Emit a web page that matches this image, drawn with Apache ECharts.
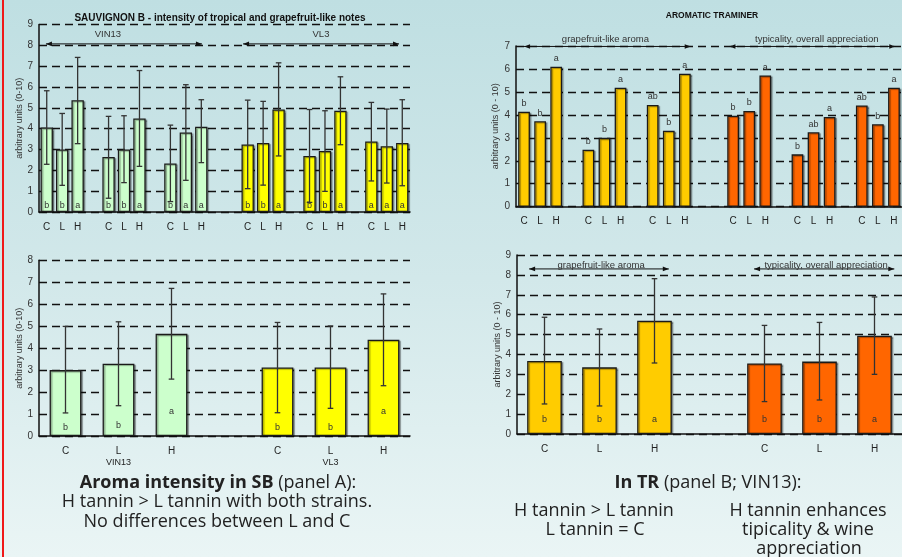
<!DOCTYPE html>
<html><head><meta charset="utf-8">
<script src="https://cdn.jsdelivr.net/npm/echarts@6/dist/echarts.min.js"></script>
<style>
html,body{margin:0;padding:0;}
#c{width:902px;height:557px;background:linear-gradient(to bottom,#bfdfe2 0%,#d2e8ea 50%,#eaf5f5 100%);}
</style></head><body><div id="c"></div>
<script>
// ---------- DATA ----------
// Panel A top: Sauvignon B, per-experiment
const sbCategories = ['C','L','H','','C','L','H','','C','L','H','','','C','L','H','','C','L','H','','C','L','H'];
const sbVin13Mean = [4.06,3.00,5.37,2.64,3.00,4.49,2.33,3.82,4.09];
const sbVin13Low  = [2.29,1.28,3.28,0.66,1.41,2.19,0.50,1.52,2.37];
const sbVin13High = [5.82,4.73,7.42,4.59,4.62,6.79,4.17,6.11,5.39];
const sbVin13Letters = ['b','b','a','b','b','a','b','a','a'];
const sbVl3Mean = [3.24,3.31,4.92,2.69,2.93,4.86,3.39,3.16,3.31];
const sbVl3Low  = [1.12,1.29,2.69,0.46,0.99,3.23,1.49,1.39,1.26];
const sbVl3High = [5.37,5.31,7.16,4.92,4.86,6.49,5.26,4.94,5.39];
const sbVl3Letters = ['b','b','a','b','b','a','a','a','a'];
const sbArrowLabels = ['VIN13','VL3'];
const sbArrowFrom = [-0.05, 12.7];
const sbArrowTo = [10.04, 22.79];
const sbArrowY = 8.07;
const sbLabelX = [3.96, 17.74];
const sbLabelY = 8.53;

// Panel A bottom: Sauvignon B, means
const sbAvgCategories = ['C','L','H','','C','L','H'];
const sbAvgGroups = ['VIN13','VL3'];
const sbAvgVin13Mean = [3.00,3.29,4.65];
const sbAvgVin13Low  = [1.05,1.38,2.59];
const sbAvgVin13High = [4.99,5.20,6.72];
const sbAvgVin13Letters = ['b','b','a'];
const sbAvgVin13LetterY = [0.39,0.50,1.10];
const sbAvgVl3Mean = [3.12,3.12,4.38];
const sbAvgVl3Low  = [1.06,1.26,2.29];
const sbAvgVl3High = [5.17,5.01,6.47];
const sbAvgVl3Letters = ['b','b','a'];
const sbAvgVl3LetterY = [0.39,0.39,1.10];

// Panel B top: Aromatic Traminer
const trCategories = ['C','L','H','','C','L','H','','C','L','H','','','C','L','H','','C','L','H','','C','L','H'];
const trAromaMean = [4.14,3.72,6.10,2.48,3.00,5.18,4.43,3.31,5.79];
const trAromaLetters = ['b','b','a','b','b','a','ab','b','a'];
const trTypicMean = [3.96,4.17,5.72,2.28,3.24,3.91,4.41,3.59,5.18];
const trTypicLetters = ['b','b','a','b','ab','a','ab','b','a'];
const trArrowLabels = ['grapefruit-like aroma','typicality, overall appreciation'];
const trArrowFrom = [0.0, 12.77];
const trArrowTo = [10.36, 23.08];
const trArrowY = 6.98;
const trLabelX = [5.06, 18.2];
const trLabelY = 7.31;

// Panel B bottom: Traminer means
const trAvgCategories = ['C','L','H','','C','L','H'];
const trAvgAromaMean = [3.67,3.35,5.70];
const trAvgAromaLow  = [1.51,1.41,3.57];
const trAvgAromaHigh = [5.87,5.28,7.81];
const trAvgAromaLetters = ['b','b','a'];
const trAvgTypicMean = [3.55,3.64,4.94];
const trAvgTypicLow  = [1.63,1.71,3.00];
const trAvgTypicHigh = [5.46,5.61,6.89];
const trAvgTypicLetters = ['b','b','a'];
const trAvgLetterY = 0.75;
const trAvgArrowLabels = ['grapefruit-like aroma','typicality, overall appreciation'];
const trAvgArrowFrom = [-0.28, 3.81];
const trAvgArrowTo = [2.26, 6.36];
const trAvgArrowY = 8.3;
const trAvgLabelX = [1.03, 5.12];
const trAvgLabelY = 8.5;

// ---------- BUILD ----------
const FONT = '"Liberation Sans", Arial, sans-serif';
function slotsOf(cats){ const s=[]; cats.forEach((c,i)=>{ if(c!=='') s.push(i); }); return s; }
function spread(n, slots, vals){ const a=new Array(n).fill('-'); slots.forEach((s,i)=>a[s]=vals[i]); return a; }
function mapLetters(slots, letters){ const m={}; slots.forEach((s,i)=>m[s]=letters[i]); return m; }

const sbSlots = slotsOf(sbCategories), sbVinS = sbSlots.slice(0,9), sbVlS = sbSlots.slice(9);
const sbAvgSlots = slotsOf(sbAvgCategories), sbAvgVinS = sbAvgSlots.slice(0,3), sbAvgVlS = sbAvgSlots.slice(3);
const trSlots = slotsOf(trCategories), trAS = trSlots.slice(0,9), trTS = trSlots.slice(9);
const trAvgSlots = slotsOf(trAvgCategories), trAvgAS = trAvgSlots.slice(0,3), trAvgTS = trAvgSlots.slice(3);

const grids = [
  {left:39, right:492, top:24.5, bottom:345},
  {left:39, right:492, top:260.3, bottom:121},
  {left:516, right:-3, top:46, bottom:350.3},
  {left:517, right:-3.5, top:255, bottom:123}
];
const yMax = [9,8,7,9];
const yNames = ['arbitrary units (0-10)','arbitrary units (0-10)','arbitrary units (0 - 10)','arbitrary units (0 - 10)'];
const yNameGap = [14,14,16,15];
const catData = [sbCategories, sbAvgCategories, trCategories, trAvgCategories];

const xAxes = [], yAxes = [];
catData.forEach((cats,g)=>{
  xAxes.push({type:'category', gridIndex:g, data:cats,
    axisLine:{onZero:false, lineStyle:{color:'#111', width:1.5}}, axisTick:{show:false},
    axisLabel:{interval:0, fontSize:10, color:'#222', margin:9, fontFamily:FONT, lineHeight:12,
      formatter:(v,i)=>{ if(g===1 && i===1) return v+'\n{s|'+sbAvgGroups[0]+'}'; if(g===1 && i===5) return v+'\n{s|'+sbAvgGroups[1]+'}'; return v; },
      rich:{s:{fontSize:9, color:'#222', fontFamily:FONT}}}
  });
  xAxes.push({type:'value', gridIndex:g, min:-0.5, max:cats.length-0.5, show:false,
    axisLine:{show:false, onZero:false}, splitLine:{show:false}, axisLabel:{show:false}, axisTick:{show:false}});
  yAxes.push({type:'value', gridIndex:g, min:0, max:yMax[g], interval:1,
    axisLine:{show:true, onZero:false, lineStyle:{color:'#111', width:1.5}}, axisTick:{show:false},
    axisLabel:{fontSize:10, color:'#333', margin:6, fontFamily:FONT},
    splitLine:{lineStyle:{type:[8,5], color:'#111', width:1.3}},
    name:yNames[g], nameLocation:'middle', nameGap:yNameGap[g],
    nameTextStyle:{fontSize:9, color:'#333', fontFamily:FONT}
  });
});

function barSeries(g, n, slots, vals, color, width, letters, labelPos){
  const lm = mapLetters(slots, letters || []);
  return {type:'bar', xAxisIndex:2*g, yAxisIndex:g, data:spread(n, slots, vals),
    barWidth:width, barGap:'-100%', z:2,
    itemStyle:{color:color, borderColor:'#1a1a1a', borderWidth:1.3,
      shadowColor:'rgba(0,0,0,0.35)', shadowOffsetX:1.5, shadowOffsetY:1, shadowBlur:1},
    label:{show:!!letters, position:labelPos||'insideBottom', distance:labelPos==='top'?3.5:2,
      fontSize:9, color:'#333', fontFamily:FONT, formatter:p=>lm[p.dataIndex]||''}
  };
}
function errorSeries(g, slots, lo, hi){
  return {type:'custom', xAxisIndex:2*g+1, yAxisIndex:g, z:5, silent:true, clip:false,
    data: slots.map((s,i)=>[s, lo[i], hi[i]]), encode:{x:0, y:[1,2]},
    renderItem(params, api){
      const p1 = api.coord([api.value(0), api.value(1)]), p2 = api.coord([api.value(0), api.value(2)]);
      const cw = 2.8, st = {stroke:'#333', lineWidth:1.3};
      return {type:'group', children:[
        {type:'line', shape:{x1:p1[0], y1:p1[1], x2:p2[0], y2:p2[1]}, style:st},
        {type:'line', shape:{x1:p1[0]-cw, y1:p1[1], x2:p1[0]+cw, y2:p1[1]}, style:st},
        {type:'line', shape:{x1:p2[0]-cw, y1:p2[1], x2:p2[0]+cw, y2:p2[1]}, style:st}
      ]};
    }
  };
}
function letterSeries(g, slots, ys, letters){
  return {type:'custom', xAxisIndex:2*g+1, yAxisIndex:g, z:6, silent:true, clip:false,
    data: slots.map((s,i)=>[s, Array.isArray(ys)?ys[i]:ys]), encode:{x:0, y:1},
    renderItem(params, api){
      const p = api.coord([api.value(0), api.value(1)]);
      return {type:'text', x:p[0], y:p[1], style:{text:letters[params.dataIndex], fill:'#333',
        font:'9px '+FONT, align:'center', verticalAlign:'middle', textAlign:'center', textVerticalAlign:'middle'}};
    }
  };
}
function arrowSeries(g, from, to, y, labels, lx, ly){
  return {type:'custom', xAxisIndex:2*g+1, yAxisIndex:g, z:7, silent:true, clip:false,
    data: from.map((f,i)=>[f, to[i], y, lx[i], ly]), encode:{x:[0,1,3], y:[2,4]},
    renderItem(params, api){
      const i = params.dataIndex;
      const a = api.coord([api.value(0), api.value(2)]), b = api.coord([api.value(1), api.value(2)]);
      const t = api.coord([api.value(3), api.value(4)]);
      const h = 6, w = 2.3;
      return {type:'group', children:[
        {type:'line', shape:{x1:a[0], y1:a[1], x2:b[0], y2:b[1]}, style:{stroke:'#111', lineWidth:1}},
        {type:'polygon', shape:{points:[[a[0],a[1]],[a[0]+h,a[1]-w],[a[0]+h,a[1]+w]]}, style:{fill:'#111'}},
        {type:'polygon', shape:{points:[[b[0],b[1]],[b[0]-h,b[1]-w],[b[0]-h,b[1]+w]]}, style:{fill:'#111'}},
        {type:'text', x:t[0], y:t[1], style:{text:labels[i], fill:'#333', font:'9.5px '+FONT,
          align:'center', verticalAlign:'middle', textAlign:'center', textVerticalAlign:'middle'}}
      ]};
    }
  };
}

const GREEN='#ccffcc', YELLOW='#ffff00', GOLD='#ffcc00', ORANGE='#ff6600';
const series = [
  barSeries(0, sbCategories.length, sbVinS, sbVin13Mean, GREEN, '80%', sbVin13Letters, 'insideBottom'),
  barSeries(0, sbCategories.length, sbVlS, sbVl3Mean, YELLOW, '80%', sbVl3Letters, 'insideBottom'),
  errorSeries(0, sbVinS, sbVin13Low, sbVin13High),
  errorSeries(0, sbVlS, sbVl3Low, sbVl3High),
  arrowSeries(0, sbArrowFrom, sbArrowTo, sbArrowY, sbArrowLabels, sbLabelX, sbLabelY),

  barSeries(1, sbAvgCategories.length, sbAvgVinS, sbAvgVin13Mean, GREEN, '60%'),
  barSeries(1, sbAvgCategories.length, sbAvgVlS, sbAvgVl3Mean, YELLOW, '60%'),
  errorSeries(1, sbAvgVinS, sbAvgVin13Low, sbAvgVin13High),
  errorSeries(1, sbAvgVlS, sbAvgVl3Low, sbAvgVl3High),
  letterSeries(1, sbAvgVinS, sbAvgVin13LetterY, sbAvgVin13Letters),
  letterSeries(1, sbAvgVlS, sbAvgVl3LetterY, sbAvgVl3Letters),

  barSeries(2, trCategories.length, trAS, trAromaMean, GOLD, '73%', trAromaLetters, 'top'),
  barSeries(2, trCategories.length, trTS, trTypicMean, ORANGE, '73%', trTypicLetters, 'top'),
  arrowSeries(2, trArrowFrom, trArrowTo, trArrowY, trArrowLabels, trLabelX, trLabelY),

  barSeries(3, trAvgCategories.length, trAvgAS, trAvgAromaMean, GOLD, '63%'),
  barSeries(3, trAvgCategories.length, trAvgTS, trAvgTypicMean, ORANGE, '63%'),
  errorSeries(3, trAvgAS, trAvgAromaLow, trAvgAromaHigh),
  errorSeries(3, trAvgTS, trAvgTypicLow, trAvgTypicHigh),
  letterSeries(3, trAvgAS, trAvgLetterY, trAvgAromaLetters),
  letterSeries(3, trAvgTS, trAvgLetterY, trAvgTypicLetters),
  arrowSeries(3, trAvgArrowFrom, trAvgArrowTo, trAvgArrowY, trAvgArrowLabels, trAvgLabelX, trAvgLabelY)
];

const BODY = '"Open Sans", Lato, sans-serif';
const BS = 18;
function txt(x, y, text, extra){
  return Object.assign({type:'text', x:x, y:y, z:10, style:Object.assign({text:text, fill:'#222',
    font:BS+'px '+BODY, align:'center', verticalAlign:'middle', textAlign:'center', textVerticalAlign:'middle'}, extra||{})});
}
const boldRich = {b:{fontWeight:'bold', fontSize:BS, fontFamily:BODY, fill:'#222', color:'#222'}, n:{fontSize:BS, fontFamily:BODY, fill:'#222', color:'#222'}};
const graphic = [
  {type:'rect', x:2, y:0, z:10, shape:{width:2, height:557}, style:{fill:'#f01818'}},
  txt(220, 18, 'SAUVIGNON B - intensity of tropical and grapefruit-like notes', {font:'bold 10px '+FONT, fill:'#111'}),
  txt(712, 16, 'AROMATIC TRAMINER', {font:'bold 8.5px '+FONT, fill:'#111'}),
  txt(218, 483, '{b|Aroma intensity in SB}{n| (panel A):}', {rich:boldRich}),
  txt(217, 502, 'H tannin > L tannin with both strains.'),
  txt(217, 522, 'No differences between L and C'),
  txt(708, 483, '{b|In TR}{n| (panel B; VIN13):}', {rich:boldRich}),
  txt(594, 511, 'H tannin > L tannin'),
  txt(595, 530, 'L tannin = C'),
  txt(808, 511, 'H tannin enhances'),
  txt(808, 530, 'tipicality & wine'),
  txt(809, 549, 'appreciation')
];

const chart = echarts.init(document.getElementById('c'), null, {renderer:'canvas'});
chart.setOption({
  animation:false,
  backgroundColor:'transparent',
  textStyle:{fontFamily:FONT},
  grid:grids, xAxis:xAxes, yAxis:yAxes, series:series, graphic:graphic
});
</script></body></html>
